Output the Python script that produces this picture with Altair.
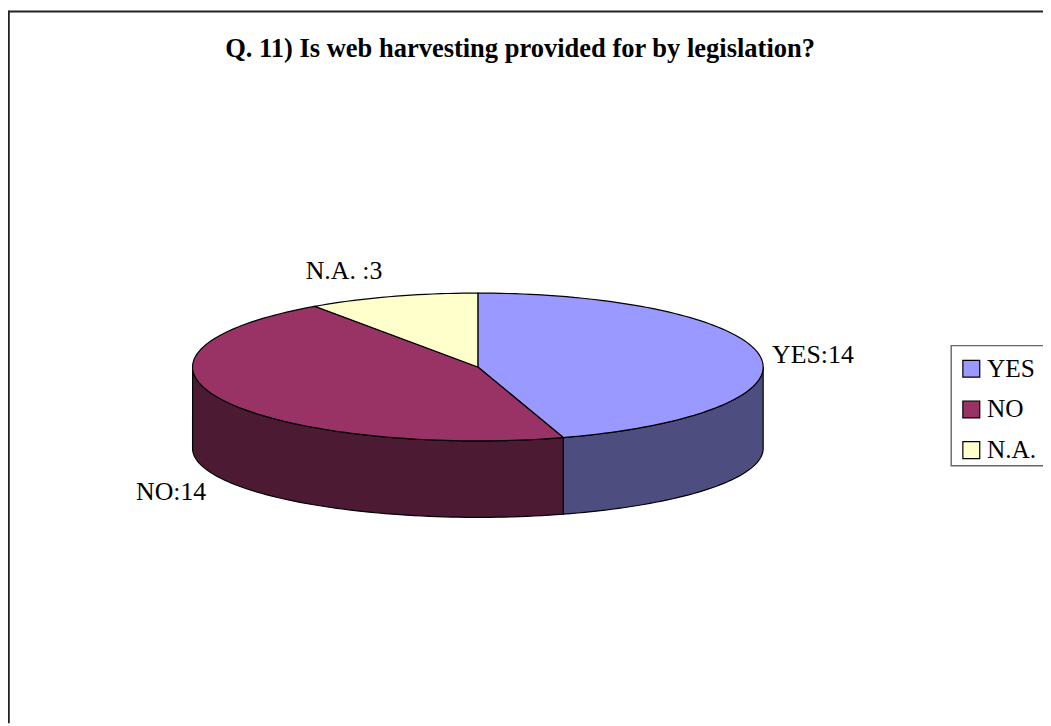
import math
import altair as alt
import pandas as pd

TITLE = "Q. 11) Is web harvesting provided for by legislation?"
categories = ["YES", "NO", "N.A."]
values = [14, 14, 3]
label_names = ["YES:", "NO:", "N.A. :"]
top_colors = ["#9999FF", "#993366", "#FFFFCC"]
wall_colors = ["#4D4D80", "#4D1A33", "#808066"]

PW, PH = 1043, 718
# pie geometry on the page (svg coordinates)
X_RANGE = [186, 761]
Y_RANGE = [433.5, 284.5]
BOTTOM_RATIO = 69.5 / 74.5
DEPTH = 82 / 74.5

total = sum(values)
edges = [0]
for v in values:
    edges.append(edges[-1] + v / total * 2 * math.pi)


def arc(a0, a1, step=math.radians(1.5)):
    n = max(2, int(abs(a1 - a0) / step) + 1)
    return [a0 + (a1 - a0) * i / (n - 1) for i in range(n)]


rows_top, rows_wall = [], []
for i, c in enumerate(categories):
    a0, a1 = edges[i], edges[i + 1]
    pts = [(0.0, 0.0)] + [(math.sin(a), math.cos(a)) for a in arc(a0, a1)] + [(0.0, 0.0)]
    for k, (x, y) in enumerate(pts):
        rows_top.append(dict(cat=c, x=x, y=y, k=k))
    lo, hi = max(a0, math.pi / 2), min(a1, 3 * math.pi / 2)
    if lo < hi:
        up = [(math.sin(a), math.cos(a)) for a in arc(lo, hi)]
        dn = [(math.sin(a), BOTTOM_RATIO * math.cos(a) - DEPTH) for a in arc(hi, lo)]
        for k, (x, y) in enumerate(up + dn + up[:1]):
            rows_wall.append(dict(cat=c, x=x, y=y, k=k))
top_df = pd.DataFrame(rows_top)
wall_df = pd.DataFrame(rows_wall)

x_enc = alt.X("x:Q", axis=None, scale=alt.Scale(domain=[-1, 1], range=X_RANGE))
y_enc = alt.Y("y:Q", axis=None, scale=alt.Scale(domain=[-1, 1], range=Y_RANGE))


def poly(df, cat, color):
    return (
        alt.Chart(df[df["cat"] == cat])
        .mark_line(fill=color, stroke="#000000", strokeWidth=1.2, interpolate="linear")
        .encode(x=x_enc, y=y_enc, order="k:Q")
    )


layers = []
for c, col in zip(categories, wall_colors):
    if c in set(wall_df["cat"]):
        layers.append(poly(wall_df, c, col))
for c, col in zip(categories, top_colors):
    layers.append(poly(top_df, c, col))

one = pd.DataFrame({"a": [0]})

# outer frame: left and top edges only are visible in the crop
frame_color = "#222222"
layers.append(alt.Chart(one).mark_rule(color=frame_color, strokeWidth=2).encode(
    x=alt.value(0.8), y=alt.value(0), y2=alt.value(PH)))
layers.append(alt.Chart(one).mark_rule(color=frame_color, strokeWidth=2).encode(
    y=alt.value(0.8), x=alt.value(0), x2=alt.value(PW)))

# legend box, open on the cropped right side
layers.append(alt.Chart(one).mark_rect(fill="#FFFFFF", stroke="#666666", strokeWidth=1.4).encode(
    x=alt.value(950.5), x2=alt.value(PW + 20), y=alt.value(337.5), y2=alt.value(458.5)))

# title
layers.append(alt.Chart(pd.DataFrame({"t": [TITLE]})).mark_text(
    font="Liberation Serif", fontSize=26.7, fontWeight="bold", color="#000000", align="center", baseline="alphabetic"
).encode(text="t:N", x=alt.value(516), y=alt.value(47)))

# data labels
label_pos = [(770, 355), (129, 493), (300, 270)]
for name, v, (lx, ly) in zip(label_names, values, label_pos):
    layers.append(alt.Chart(pd.DataFrame({"t": [f"{name}{v}"]})).mark_text(
        font="Liberation Serif", fontSize=26, color="#000000", align="left", baseline="alphabetic"
    ).encode(text="t:N", x=alt.value(lx), y=alt.value(ly)))

# legend
legend_df = pd.DataFrame({"cat": categories})
layers.append(alt.Chart(legend_df).mark_square(size=0, opacity=0).encode(
    color=alt.Color("cat:N", scale=alt.Scale(domain=categories, range=top_colors),
        legend=alt.Legend(title=None, orient="none", legendX=950, legendY=340,
            symbolType="square", symbolSize=290, symbolStrokeColor="#000000", symbolStrokeWidth=1.2,
            symbolOpacity=1, labelFont="Liberation Serif", labelFontSize=25.5, labelColor="#000000",
            rowPadding=14, labelOffset=3, padding=8))
))

chart = alt.layer(*layers).resolve_scale(x="shared", y="shared").properties(
    width=PW, height=PH, padding=0, background="#FFFFFF", autosize=alt.AutoSizeParams(type="none")
).configure_view(stroke=None)

chart.save("out.html", embed_options={"renderer": "svg", "actions": False})
